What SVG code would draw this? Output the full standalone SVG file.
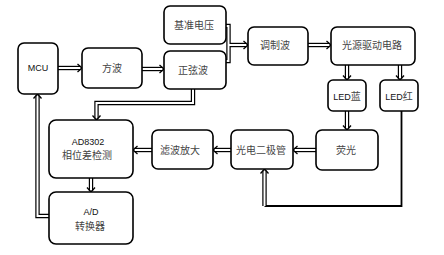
<svg xmlns="http://www.w3.org/2000/svg" xmlns:xlink="http://www.w3.org/1999/xlink" width="444" height="255" viewBox="0 0 444 255">
<style>
.b{fill:#fff;stroke:#000;stroke-width:1.6}
.o{fill:none;stroke:#000;stroke-width:4.4;stroke-linejoin:miter}
.i{fill:none;stroke:#fff;stroke-width:2;stroke-linejoin:miter}
.h{fill:none;stroke:#000;stroke-width:1.3}
.s{fill:none;stroke:#000;stroke-width:1.8}
.zh{font-family:"Noto Sans CJK SC",sans-serif;font-size:10px;fill:#444;text-anchor:middle}
.en{font-family:"Liberation Sans","Noto Sans CJK SC",sans-serif;font-size:9px;fill:#111;text-anchor:middle}
</style>
<defs>
<path id="c1" d="M58,68 H80.5"/>
<path id="c2" d="M142,69 H162.5"/>
<path id="c3" d="M224,26 H228.5 V61 H224"/>
<path id="c3b" d="M228.5,45 H246.5"/>
<path id="c4" d="M308,45 H329.5"/>
<path id="c5" d="M347,65 V78.5"/>
<path id="c6" d="M400,65 V78.5"/>
<path id="c7" d="M347,111 V128.5"/>
<path id="c8" d="M316,150 H294.5"/>
<path id="c9" d="M231,150 H214.5"/>
<path id="c10" d="M152,150 H134.5"/>
<path id="c11" d="M91,178 V190.5"/>
<path id="c12" d="M49,216 H37.5 V95.5"/>
<path id="c13" d="M193,89 V103 H96.5 V118.5"/>
<path id="c14" d="M264.5,206 V170.5"/>
</defs>
<g id="connectors">
<path class="s" d="M401.5,111 V206 H264.5"/>
<use xlink:href="#c1" class="o"/><use xlink:href="#c2" class="o"/><use xlink:href="#c3" class="o"/><use xlink:href="#c3b" class="o"/>
<use xlink:href="#c4" class="o"/><use xlink:href="#c5" class="o"/><use xlink:href="#c6" class="o"/><use xlink:href="#c7" class="o"/>
<use xlink:href="#c8" class="o"/><use xlink:href="#c9" class="o"/><use xlink:href="#c10" class="o"/><use xlink:href="#c11" class="o"/>
<use xlink:href="#c12" class="o"/><use xlink:href="#c13" class="o"/><use xlink:href="#c14" class="o"/>
<use xlink:href="#c1" class="i"/><use xlink:href="#c2" class="i"/><use xlink:href="#c3" class="i"/><use xlink:href="#c3b" class="i"/>
<use xlink:href="#c4" class="i"/><use xlink:href="#c5" class="i"/><use xlink:href="#c6" class="i"/><use xlink:href="#c7" class="i"/>
<use xlink:href="#c8" class="i"/><use xlink:href="#c9" class="i"/><use xlink:href="#c10" class="i"/><use xlink:href="#c11" class="i"/>
<use xlink:href="#c12" class="i"/><use xlink:href="#c13" class="i"/><use xlink:href="#c14" class="i"/>
<path class="h" d="M77.5,64 L82,68 L77.5,72"/>
<path class="h" d="M159.5,65 L164,69 L159.5,73"/>
<path class="h" d="M243.5,41 L248,45 L243.5,49"/>
<path class="h" d="M326.5,41 L331,45 L326.5,49"/>
<path class="h" d="M343,75.5 L347,80 L351,75.5"/>
<path class="h" d="M396,75.5 L400,80 L404,75.5"/>
<path class="h" d="M343,125.5 L347,130 L351,125.5"/>
<path class="h" d="M297.5,146 L293,150 L297.5,154"/>
<path class="h" d="M217.5,146 L213,150 L217.5,154"/>
<path class="h" d="M137.5,146 L133,150 L137.5,154"/>
<path class="h" d="M87,187.5 L91,192 L95,187.5"/>
<path class="h" d="M33.5,98.5 L37.5,94 L41.5,98.5"/>
<path class="h" d="M92.5,115.5 L96.5,120 L100.5,115.5"/>
<path class="h" d="M260.5,173.5 L264.5,169 L268.5,173.5"/>
</g>
<g id="mcu"><rect class="b" x="18" y="43" width="40" height="51" rx="6"/><text class="en" x="38" y="71">MCU</text></g>
<g id="fangbo"><rect class="b" x="82" y="48" width="60" height="40" rx="6"/><text class="zh" x="112" y="71.5">方波</text></g>
<g id="zhengxianbo"><rect class="b" x="164" y="51" width="62" height="38" rx="6"/><text class="zh" x="193" y="73.5">正弦波</text></g>
<g id="jizhundianya"><rect class="b" x="164" y="6" width="62" height="38" rx="6"/><text class="zh" x="194" y="28.5">基准电压</text></g>
<g id="tiaozhibo"><rect class="b" x="248" y="27" width="60" height="38" rx="6"/><text class="zh" x="275" y="48.5">调制波</text></g>
<g id="guangyuan"><rect class="b" x="331" y="27" width="84" height="38" rx="6"/><text class="zh" x="372" y="48.5">光源驱动电路</text></g>
<g id="ledlan"><rect class="b" x="328" y="80" width="38" height="31" rx="5"/><text class="en" x="347" y="100">LED<tspan font-family="Noto Sans CJK SC" font-size="10" fill="#444">蓝</tspan></text></g>
<g id="ledhong"><rect class="b" x="380" y="80" width="38" height="31" rx="5"/><text class="en" x="399" y="100">LED<tspan font-family="Noto Sans CJK SC" font-size="10" fill="#444">红</tspan></text></g>
<g id="yingguang"><rect class="b" x="316" y="130" width="62" height="40" rx="6"/><text class="zh" x="346" y="153.5">荧光</text></g>
<g id="guangdian"><rect class="b" x="231" y="130" width="62" height="39" rx="6"/><text class="zh" x="261" y="153.5">光电二极管</text></g>
<g id="lvbo"><rect class="b" x="152" y="130" width="61" height="39" rx="6"/><text class="zh" x="180" y="153.5">滤波放大</text></g>
<g id="ad8302"><rect class="b" x="49" y="120" width="84" height="58" rx="7"/><text class="en" x="88" y="145">AD8302</text><text class="zh" x="87" y="158.5">相位差检测</text></g>
<g id="adc"><rect class="b" x="49" y="192" width="84" height="52" rx="7"/><text class="en" x="91" y="215">A/D</text><text class="zh" x="90" y="229.5">转换器</text></g>
</svg>
